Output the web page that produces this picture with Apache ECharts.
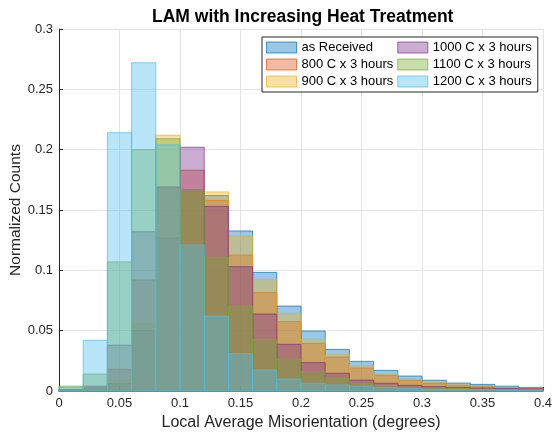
<!DOCTYPE html>
<html>
<head>
<meta charset="utf-8">
<script src="https://cdn.jsdelivr.net/npm/echarts@6/dist/echarts.min.js"></script>
<style>
  html, body { margin: 0; padding: 0; background: #fff; }
  #chart { width: 552px; height: 438px; }
</style>
</head>
<body>
<div id="chart"></div>
<script>
// Histogram bin edges (degrees)
const binEdges = [0, 0.02, 0.04, 0.06, 0.08, 0.10, 0.12, 0.14, 0.16, 0.18, 0.20,
                  0.22, 0.24, 0.26, 0.28, 0.30, 0.32, 0.34, 0.36, 0.38, 0.40];

// Normalized counts per bin for each heat treatment
const asReceived = [0.001, 0.002, 0.006, 0.050, 0.127, 0.167, 0.162, 0.1326, 0.0983, 0.0704,
                    0.0497, 0.0345, 0.0246, 0.0171, 0.0124, 0.0089, 0.0066, 0.0055, 0.0040, 0.0030];
const c800 = [0.001, 0.003, 0.018, 0.092, 0.169, 0.183, 0.158, 0.1127, 0.0815, 0.0575,
              0.0395, 0.028, 0.019, 0.013, 0.009, 0.0065, 0.0047, 0.0040, 0.0028, 0.0025];
const c900 = [0.001, 0.002, 0.009, 0.056, 0.212, 0.165, 0.165, 0.1285, 0.0925, 0.0644,
              0.0428, 0.030, 0.021, 0.014, 0.0097, 0.0070, 0.0050, 0.0042, 0.0030, 0.0025];
const c1000 = [0.001, 0.004, 0.038, 0.132, 0.169, 0.202, 0.153, 0.103, 0.0638, 0.0387,
               0.0235, 0.0147, 0.009, 0.0064, 0.0047, 0.0036, 0.0030, 0.0025, 0.0020, 0.0018];
const c1100 = [0.004, 0.014, 0.107, 0.200, 0.209, 0.167, 0.111, 0.0705, 0.0428, 0.0265,
               0.016, 0.0105, 0.0065, 0.0045, 0.0030, 0.0025, 0.0020, 0.0015, 0.0012, 0.0010];
const c1200 = [0.003, 0.042, 0.214, 0.272, 0.204, 0.121, 0.062, 0.031, 0.0174, 0.0099,
               0.0064, 0.005, 0.004, 0.003, 0.002, 0.0015, 0.0010, 0.0010, 0.0008, 0.0006];

const seriesNames = ['as Received', '800 C x 3 hours', '900 C x 3 hours',
                     '1000 C x 3 hours', '1100 C x 3 hours', '1200 C x 3 hours'];
const seriesValues = [asReceived, c800, c900, c1000, c1100, c1200];
const seriesRGB = [[0, 114, 189], [217, 83, 25], [237, 177, 32],
                   [126, 47, 142], [119, 172, 48], [77, 190, 238]];
const faceAlpha = 0.4;
const edgeAlpha = 0.7;

const fontFamily = '"Liberation Sans", Arial, Helvetica, sans-serif';
const textColor = '#262626';

function rgba(c, a) { return 'rgba(' + c[0] + ',' + c[1] + ',' + c[2] + ',' + a + ')'; }

function histSeries(name, values, color) {
  const data = values.map((v, i) => [binEdges[i], binEdges[i + 1], v]);
  const fill = rgba(color, faceAlpha);
  const stroke = rgba(color, edgeAlpha);
  return {
    type: 'custom',
    name: name,
    data: data,
    encode: { x: [0, 1], y: 2 },
    itemStyle: { color: fill, borderColor: stroke, borderWidth: 1 },
    renderItem: function (params, api) {
      const p0 = api.coord([api.value(0), 0]);
      const p1 = api.coord([api.value(1), api.value(2)]);
      return {
        type: 'rect',
        shape: { x: p0[0], y: p1[1], width: p1[0] - p0[0], height: p0[1] - p1[1] },
        style: { fill: fill, stroke: stroke, lineWidth: 1 }
      };
    }
  };
}

const chart = echarts.init(document.getElementById('chart'), null, { renderer: 'canvas' });

chart.setOption({
  animation: false,
  backgroundColor: '#ffffff',
  title: {
    text: 'LAM with Increasing Heat Treatment',
    left: 147,
    top: 3,
    textStyle: { fontFamily: fontFamily, fontWeight: 'bold', fontSize: 17.5, color: '#000' }
  },
  grid: { left: 59, right: 9, top: 29, bottom: 47, containLabel: false, outerBoundsMode: 'none' },
  legend: {
    orient: 'vertical',
    left: 262,
    top: 37,
    height: 58,
    padding: [4, 6, 4, 4],
    itemWidth: 30,
    itemHeight: 11,
    itemGap: 4,
    itemTextGap: 3,
    backgroundColor: '#ffffff',
    borderColor: '#262626',
    borderWidth: 1,
    borderRadius: 0,
    icon: 'rect',
    textStyle: { fontFamily: fontFamily, fontSize: 13, color: '#000' },
    data: seriesNames.map((n, i) => ({
      name: n,
      itemStyle: { color: rgba(seriesRGB[i], faceAlpha), borderColor: rgba(seriesRGB[i], edgeAlpha), borderWidth: 1 }
    }))
  },
  xAxis: {
    type: 'value',
    min: 0,
    max: 0.4,
    interval: 0.05,
    name: 'Local Average Misorientation (degrees)',
    nameLocation: 'middle',
    nameGap: 24,
    nameMoveOverlap: false,
    nameTextStyle: { fontFamily: fontFamily, fontSize: 16, color: textColor },
    axisLine: { show: true, lineStyle: { color: '#262626', width: 1 } },
    axisTick: { show: true, inside: true, length: 4, lineStyle: { color: '#262626' } },
    axisLabel: { fontFamily: fontFamily, fontSize: 13, color: textColor, margin: 6 },
    splitLine: { show: true, lineStyle: { color: '#e3e3e3', width: 1 } }
  },
  yAxis: {
    type: 'value',
    min: 0,
    max: 0.3,
    interval: 0.05,
    name: 'Normalized Counts',
    nameLocation: 'middle',
    nameGap: 35,
    nameMoveOverlap: false,
    nameTextStyle: { fontFamily: fontFamily, fontSize: 15.5, color: textColor },
    axisLine: { show: true, lineStyle: { color: '#262626', width: 1 } },
    axisTick: { show: true, inside: true, length: 4, lineStyle: { color: '#262626' } },
    axisLabel: { fontFamily: fontFamily, fontSize: 13, color: textColor, margin: 6 },
    splitLine: { show: true, lineStyle: { color: '#e3e3e3', width: 1 } }
  },
  series: seriesNames.map((n, i) => histSeries(n, seriesValues[i], seriesRGB[i]))
});
</script>
</body>
</html>
